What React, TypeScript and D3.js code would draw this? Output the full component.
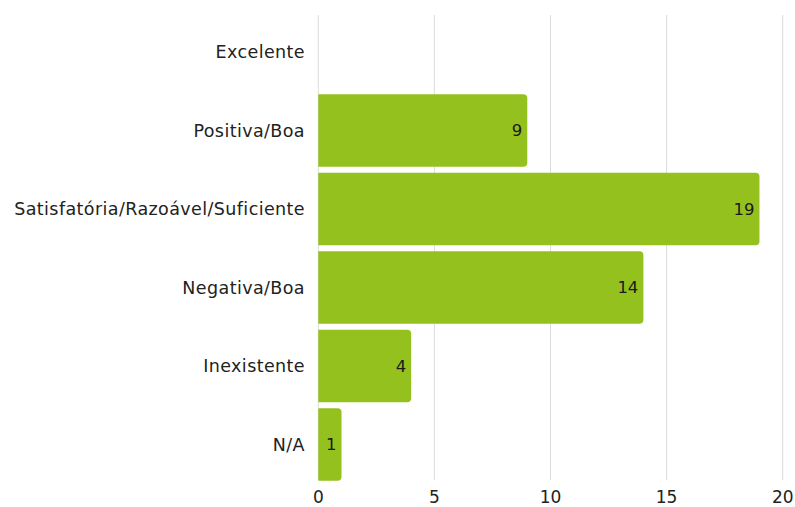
import React from "react";
import * as d3 from "d3";

const categories = [
  "Excelente",
  "Positiva/Boa",
  "Satisfatória/Razoável/Suficiente",
  "Negativa/Boa",
  "Inexistente",
  "N/A",
];
const values = [0, 9, 19, 14, 4, 1];
const xTicks = [0, 5, 10, 15, 20];

const W = 795;
const H = 507;
const FONT = "'DejaVu Sans', 'Open Sans', sans-serif";

export default function App() {
  const x = d3.scaleLinear().domain([0, 20]).range([318.3, 782.7]);
  const y = d3
    .scaleBand<string>()
    .domain(categories)
    .range([15.8, 480.7])
    .paddingInner(0.076)
    .paddingOuter(0);
  const r = 4;
  const barPath = (v: number, top: number, h: number) => {
    const x0 = x(0);
    const x1 = x(v);
    const rr = Math.min(r, (x1 - x0) / 2);
    const p = d3.path();
    p.moveTo(x0, top);
    p.lineTo(x1 - rr, top);
    p.quadraticCurveTo(x1, top, x1, top + rr);
    p.lineTo(x1, top + h - rr);
    p.quadraticCurveTo(x1, top + h, x1 - rr, top + h);
    p.lineTo(x0, top + h);
    p.closePath();
    return p.toString();
  };
  return (
    <svg
      width={W}
      height={H}
      style={{ position: "absolute", left: 0, top: 0, background: "#fff" }}
      fontFamily={FONT}
    >
      {xTicks.map((t) => (
        <g key={t}>
          <line
            x1={x(t)}
            x2={x(t)}
            y1={15}
            y2={480}
            stroke="#dcdcdc"
            strokeWidth={1}
          />
          <text
            x={x(t)}
            y={503}
            textAnchor="middle"
            fontSize={17}
            fill="#222"
          >
            {t}
          </text>
        </g>
      ))}
      {categories.map((c, i) => {
        const top = y(c)!;
        const h = y.bandwidth();
        const v = values[i];
        return (
          <g key={c}>
            <text
              x={305}
              y={top + h / 2}
              dy="0.36em"
              textAnchor="end"
              fontSize={17.5}
              letterSpacing={0.4}
              fill="#222"
            >
              {c}
            </text>
            {v > 0 && (
              <>
                <path d={barPath(v, top, h)} fill="#95c11f" />
                <text
                  x={x(v) - 5}
                  y={top + h / 2}
                  dy="0.36em"
                  textAnchor="end"
                  fontSize={16.5}
                  fill="#1a1a1a"
                >
                  {v}
                </text>
              </>
            )}
          </g>
        );
      })}
    </svg>
  );
}
